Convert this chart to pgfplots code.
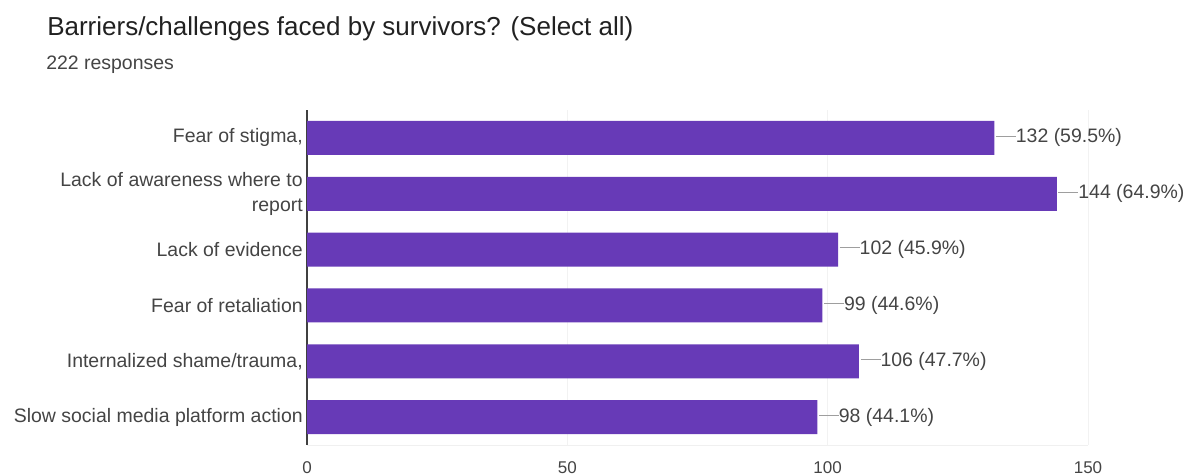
\documentclass[border=0pt]{standalone}
\usepackage{pgfplots}
\pgfplotsset{compat=1.18}
\usepackage{fontspec}
\setmainfont{Liberation Sans}
\definecolor{barpurple}{HTML}{673AB7}
\definecolor{txt}{HTML}{444444}
\definecolor{ttl}{HTML}{212121}
\definecolor{leader}{HTML}{9E9E9E}
\begin{document}
\begin{tikzpicture}
\path[use as bounding box] (0,0) rectangle (888.75pt,356.25pt);
\node[anchor=base west, inner sep=0pt, text=ttl, font=\fontsize{19.5}{23}\selectfont] at (35.25pt,329.25pt) {Barriers/challenges faced by survivors? (Select all)};
\node[anchor=base west, inner sep=0pt, text=txt, font=\fontsize{14.6}{17}\selectfont] at (34.5pt,303.75pt) {222 responses};
\begin{axis}[
  at={(230.25pt,22.5pt)}, anchor=south west,
  scale only axis, width=585.75pt, height=251.25pt,
  xbar, bar width=25.5pt,
  xmin=0, xmax=150, ymin=-0.5, ymax=5.5, y dir=reverse,
  xtick={0,50,100,150}, ytick={0,1,2,3,4,5},
  yticklabels={{Fear of stigma,},{Lack of awareness where to\\report},{Lack of evidence},{Fear of retaliation},{Internalized shame/trauma,},{Slow social media platform action}},
  major tick length=0pt,
  axis lines*=left,
  x axis line style={draw=black!6, -},
  y axis line style={draw=black!75, line width=0.8pt, -},
  xmajorgrids, grid style={draw=black!5},
  /pgf/number format/assume math mode=true,
  xticklabel style={font=\fontsize{12.75}{15}\selectfont, text=txt, anchor=north, inner sep=0pt, yshift=-12pt},
  yticklabel style={font=\fontsize{14.6}{18.75}\selectfont, text=txt, align=right, inner sep=0pt, xshift=-3pt},
  clip=false,
  point meta=explicit symbolic,
  nodes near coords={\textcolor{leader}{\rule[0.33em]{15pt}{0.6pt}}\pgfplotspointmeta},
  nodes near coords style={anchor=west, inner sep=1pt, text=txt, font=\fontsize{14.6}{17}\selectfont},
]
\addplot[fill=barpurple, draw=none] coordinates {
  (132,0) [132 (59.5\%)]
  (144,1) [144 (64.9\%)]
  (102,2) [102 (45.9\%)]
  (99,3)  [99 (44.6\%)]
  (106,4) [106 (47.7\%)]
  (98,5)  [98 (44.1\%)]
};
\end{axis}
\end{tikzpicture}
\end{document}
